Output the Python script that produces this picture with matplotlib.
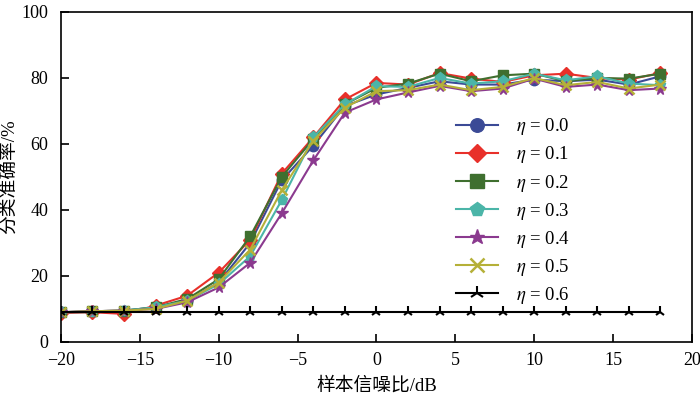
import numpy as np
import matplotlib.pyplot as plt

plt.rcParams['font.family'] = ['Liberation Serif', 'Noto Sans CJK SC']
plt.rcParams['mathtext.fontset'] = 'stix'

snr = np.arange(-20, 20, 2)

acc_00 = [9, 9.3, 9.5, 10.5, 12.5, 18, 30, 49, 59.5, 71.5, 75, 77, 79, 78, 78, 79.5, 79, 79.5, 78, 80.5]
acc_01 = [8.7, 9, 8.5, 11, 14, 21, 31, 51, 62, 73.5, 78.5, 78, 81.5, 79.8, 78.8, 80.8, 81.3, 80, 79.5, 81.5]
acc_02 = [9, 9.3, 9.5, 10.5, 13, 19, 32, 50, 61.5, 72, 77, 78.3, 81.3, 79, 80.8, 81.3, 79, 80, 79.8, 81.3]
acc_03 = [9, 9, 9.5, 10.5, 12.5, 17.5, 26, 43, 62, 72, 77.5, 77.3, 80, 78.3, 79, 81.3, 79.3, 80.5, 78.3, 77.8]
acc_04 = [9, 9.3, 9.5, 10, 12, 16.5, 24, 39, 55, 69.5, 73.5, 75.6, 77.6, 76, 76.8, 79.8, 77.3, 78, 76.3, 76.8]
acc_05 = [9, 9.3, 9.5, 10, 12.5, 18, 28, 46, 61, 71, 76, 76.3, 78, 76.3, 77.3, 80, 77.8, 78.8, 76.8, 78]
acc_06 = [9] * 20

series = [
    (acc_00, r'$\eta$ = 0.0', '#3b4a96', 'o', 7.5),
    (acc_01, r'$\eta$ = 0.1', '#e8302a', 'D', 7),
    (acc_02, r'$\eta$ = 0.2', '#3f6f2f', 's', 7.5),
    (acc_03, r'$\eta$ = 0.3', '#4bb5a8', 'p', 8),
    (acc_04, r'$\eta$ = 0.4', '#8b3a8f', '*', 8.5),
    (acc_05, r'$\eta$ = 0.5', '#b5b038', 'x', 7.5),
    (acc_06, r'$\eta$ = 0.6', '#000000', '2', 8),
]

fig = plt.figure(figsize=(7, 3.99), dpi=100)
ax = fig.add_axes([0.087, 0.143, 0.9015, 0.827])

for vals, lab, col, mk, ms in series:
    ax.plot(snr, vals, color=col, marker=mk, markersize=ms, linewidth=1.5,
            markeredgewidth=1.8 if mk == 'x' else (1.5 if mk == '2' else 1), label=lab)

ax.set_xlim(-20, 20)
ax.set_ylim(0, 100)
ax.set_xticks(np.arange(-20, 21, 5))
ax.set_yticks(np.arange(0, 101, 20))
ax.tick_params(direction='in', length=6, width=1.2, labelsize=13, top=False, right=False)
ax.tick_params(axis='x', pad=7)
ax.tick_params(axis='y', pad=9)
for sp in ax.spines.values():
    sp.set_linewidth(1.2)

ax.set_xlabel('样本信噪比/dB', fontsize=13.5, labelpad=6)
ax.set_ylabel('分类准确率/%', fontsize=13.5)
ax.yaxis.set_label_coords(-0.066, 0.5)

ax.legend(loc='upper left', bbox_to_anchor=(0.6, 0.735), frameon=False, fontsize=13.5,
          handlelength=2.2, labelspacing=0.38, handletextpad=1.0, markerscale=1.3)

plt.savefig('out.png', dpi=100)
